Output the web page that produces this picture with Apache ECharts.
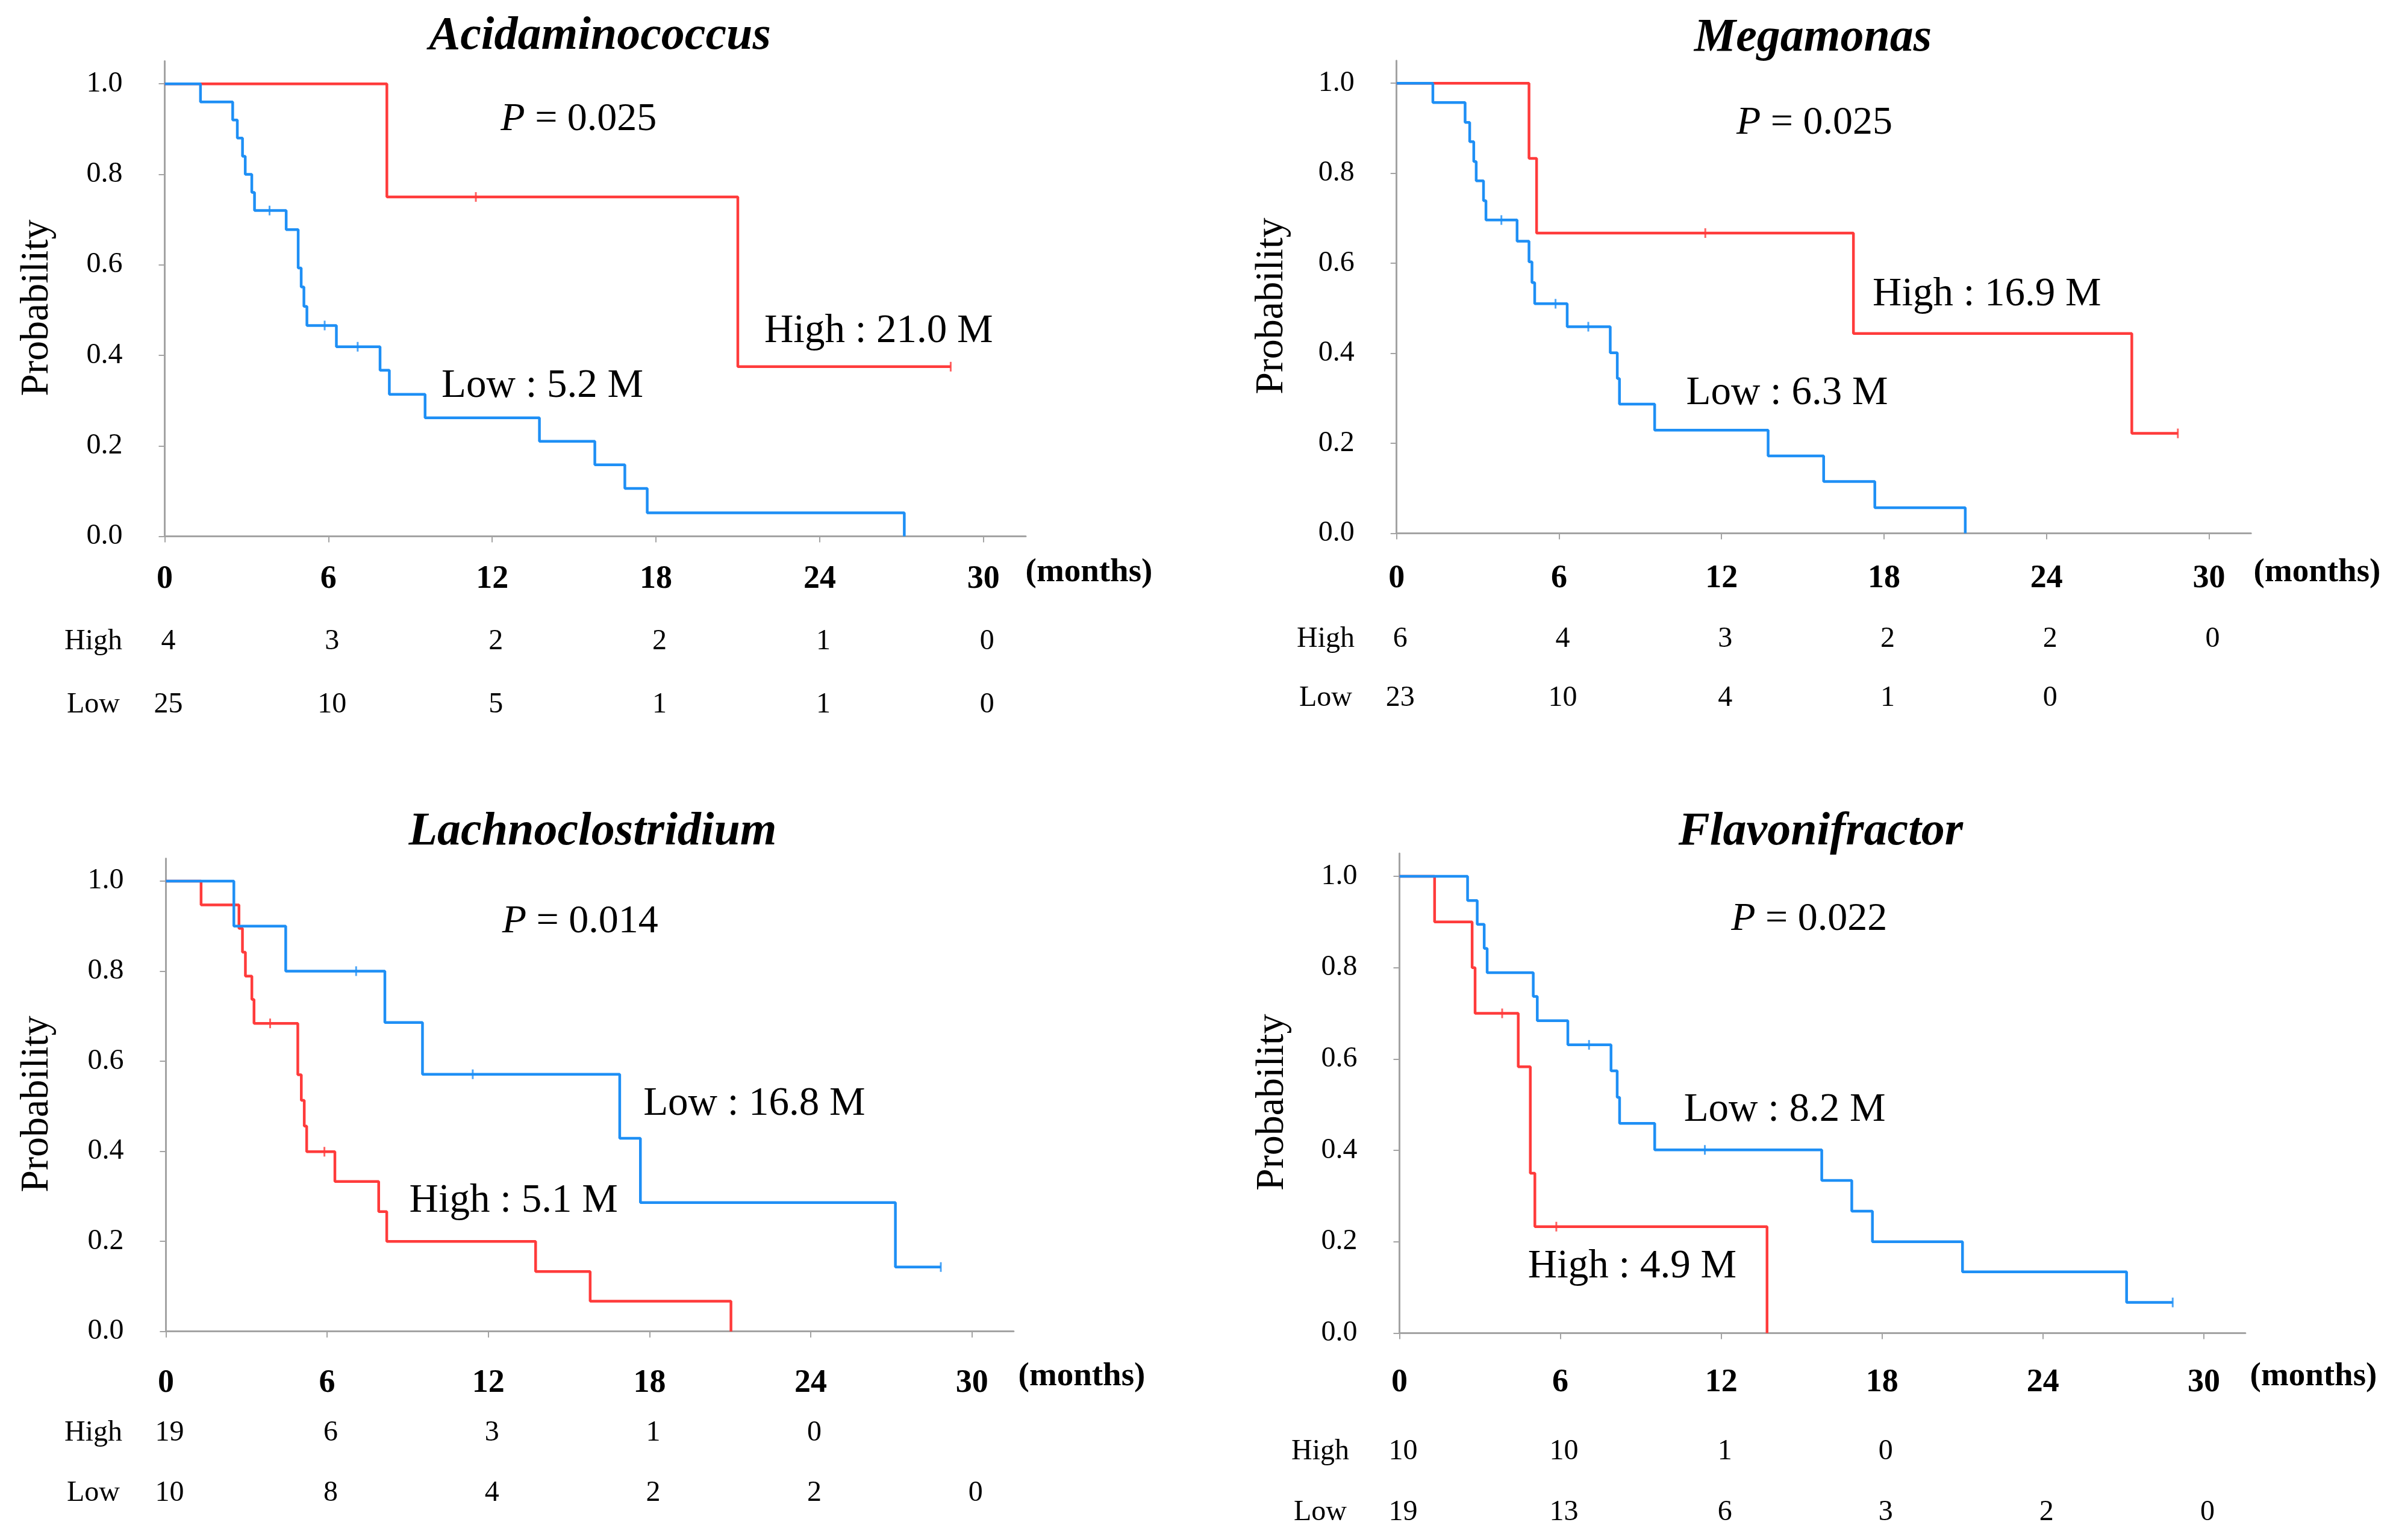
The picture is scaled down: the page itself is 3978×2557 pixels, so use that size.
<!DOCTYPE html>
<html>
<head>
<meta charset="utf-8">
<script src="https://cdn.jsdelivr.net/npm/echarts@6/dist/echarts.min.js"></script>
<style>
html,body{margin:0;padding:0;background:#ffffff;}
#chart{width:3978px;height:2557px;}
</style>
</head>
<body>
<div id="chart"></div>
<script>
// ---------------- data ----------------
const monthTicks = [0, 6, 12, 18, 24, 30];
const probTicks = [0, 0.2, 0.4, 0.6, 0.8, 1.0];
const groupNames = ['High', 'Low'];
const unitLabel = '(months)';
const yTitle = 'Probability';

// Panel 1: Acidaminococcus
const acidTitle = 'Acidaminococcus';
const acidHighT = [0, 8.14, 21.0, 28.8];
const acidHighS = [1, 0.75, 0.375, 0.375];
const acidHighCens = [11.4, 28.8];
const acidLowT = [0, 1.31, 2.49, 2.66, 2.85, 2.95, 3.19, 3.29, 4.45, 4.89, 5.0, 5.1, 5.21, 6.29, 7.89, 8.23, 9.54, 13.73, 15.76, 16.86, 17.68, 27.1];
const acidLowS = [1, 0.96, 0.92, 0.88, 0.84, 0.80, 0.76, 0.72, 0.678, 0.593, 0.551, 0.508, 0.466, 0.419, 0.367, 0.314, 0.262, 0.21, 0.158, 0.106, 0.052, 0];
const acidLowCens = [3.84, 5.86, 7.07];
const acidRiskHigh = [4, 3, 2, 2, 1, 0];
const acidRiskLow = [25, 10, 5, 1, 1, 0];
const acidP = '0.025';
const acidHighMed = '21.0';
const acidLowMed = '5.2';

// Panel 2: Megamonas
const megaTitle = 'Megamonas';
const megaHighT = [0, 4.89, 5.17, 16.87, 27.15, 28.85];
const megaHighS = [1, 0.833, 0.667, 0.444, 0.222, 0.222];
const megaHighCens = [11.4, 28.85];
const megaLowT = [0, 1.34, 2.53, 2.70, 2.85, 2.94, 3.21, 3.30, 4.45, 4.89, 5.0, 5.1, 6.3, 7.89, 8.15, 8.23, 9.53, 13.72, 15.77, 17.66, 21.0];
const megaLowS = [1, 0.957, 0.913, 0.870, 0.826, 0.783, 0.739, 0.696, 0.649, 0.603, 0.557, 0.510, 0.459, 0.401, 0.344, 0.287, 0.229, 0.172, 0.115, 0.057, 0];
const megaLowCens = [3.87, 5.87, 7.08];
const megaRiskHigh = [6, 4, 3, 2, 2, 0];
const megaRiskLow = [23, 10, 4, 1, 0];
const megaP = '0.025';
const megaHighMed = '16.9';
const megaLowMed = '6.3';

// Panel 3: Lachnoclostridium
const lachTitle = 'Lachnoclostridium';
const lachHighT = [0, 1.31, 2.72, 2.85, 2.96, 3.20, 3.28, 4.91, 5.04, 5.15, 5.24, 6.29, 7.92, 8.22, 13.76, 15.79, 21.03];
const lachHighS = [1, 0.947, 0.895, 0.842, 0.789, 0.737, 0.684, 0.570, 0.513, 0.456, 0.399, 0.333, 0.266, 0.2, 0.133, 0.067, 0];
const lachHighCens = [3.88, 5.9];
const lachLowT = [0, 2.53, 4.46, 8.15, 9.55, 16.89, 17.66, 27.15, 28.84];
const lachLowS = [1, 0.9, 0.8, 0.686, 0.571, 0.429, 0.286, 0.143, 0.143];
const lachLowCens = [7.08, 11.42, 28.84];
const lachRiskHigh = [19, 6, 3, 1, 0];
const lachRiskLow = [10, 8, 4, 2, 2, 0];
const lachP = '0.014';
const lachHighMed = '5.1';
const lachLowMed = '16.8';

// Panel 4: Flavonifractor
const flavTitle = 'Flavonifractor';
const flavHighT = [0, 1.31, 2.71, 2.82, 4.43, 4.88, 5.05, 13.71];
const flavHighS = [1, 0.9, 0.8, 0.7, 0.583, 0.35, 0.233, 0];
const flavHighCens = [3.83, 5.85];
const flavLowT = [0, 2.54, 2.9, 3.16, 3.27, 4.99, 5.14, 6.28, 7.89, 8.12, 8.21, 9.52, 15.75, 16.87, 17.64, 21.0, 27.12, 28.84];
const flavLowS = [1, 0.947, 0.895, 0.842, 0.789, 0.737, 0.684, 0.631, 0.574, 0.516, 0.459, 0.401, 0.334, 0.267, 0.2, 0.134, 0.067, 0.067];
const flavLowCens = [7.07, 11.39, 28.84];
const flavRiskHigh = [10, 10, 1, 0];
const flavRiskLow = [19, 13, 6, 3, 2, 0];
const flavP = '0.022';
const flavHighMed = '4.9';
const flavLowMed = '8.2';

// ---------------- assembly ----------------
const panels = [
  {title: acidTitle, hT: acidHighT, hS: acidHighS, hC: acidHighCens, lT: acidLowT, lS: acidLowS, lC: acidLowCens, rH: acidRiskHigh, rL: acidRiskLow, p: acidP, hM: acidHighMed, lM: acidLowMed},
  {title: megaTitle, hT: megaHighT, hS: megaHighS, hC: megaHighCens, lT: megaLowT, lS: megaLowS, lC: megaLowCens, rH: megaRiskHigh, rL: megaRiskLow, p: megaP, hM: megaHighMed, lM: megaLowMed},
  {title: lachTitle, hT: lachHighT, hS: lachHighS, hC: lachHighCens, lT: lachLowT, lS: lachLowS, lC: lachLowCens, rH: lachRiskHigh, rL: lachRiskLow, p: lachP, hM: lachHighMed, lM: lachLowMed},
  {title: flavTitle, hT: flavHighT, hS: flavHighS, hC: flavHighCens, lT: flavLowT, lS: flavLowS, lC: flavLowCens, rH: flavRiskHigh, rL: flavRiskLow, p: flavP, hM: flavHighMed, lM: flavLowMed}
];

// layout (pixels; annotation anchors are in data space)
const layout = [
  {grid: {left: 273.5, top: 101.6, width: 1429.5, height: 789}, titleXY: [996, 61], labelMargin: 44, nameGap: 179,
   pAt: [15.17, 0.921], highAt: [26.16, 0.4525], lowAt: [13.84, 0.332],
   riskY: [1065, 1170], riskLabelX: 155, unitXY: [1808, 951]},
  {grid: {left: 2318.7, top: 100.8, width: 1418.5, height: 784.7}, titleXY: [3010, 64], labelMargin: 49, nameGap: 174,
   pAt: [15.43, 0.911], highAt: [21.8, 0.530], lowAt: [14.42, 0.31],
   riskY: [1061, 1159], riskLabelX: 2201, unitXY: [3847, 951]},
  {grid: {left: 275.4, top: 1425.5, width: 1407.5, height: 785.2}, titleXY: [984, 1382], labelMargin: 59, nameGap: 181,
   pAt: [15.42, 0.910], highAt: [12.94, 0.289], lowAt: [21.9, 0.505],
   riskY: [2379, 2479], riskLabelX: 155, unitXY: [1796, 2286]},
  {grid: {left: 2323.5, top: 1417.1, width: 1404.4, height: 796.3}, titleXY: [3023, 1382], labelMargin: 56, nameGap: 178,
   pAt: [15.28, 0.906], highAt: [8.68, 0.1445], lowAt: [14.37, 0.488],
   riskY: [2410, 2511], riskLabelX: 2192, unitXY: [3841, 2286]}
];

const RED = '#FF3B3B';
const BLUE = '#1E8FF5';
const AXIS = '#a3a3a3';
const SERIF = "'Liberation Serif', 'Times New Roman', serif";

function survAt(T, S, t) {
  let v = S[0];
  for (let i = 0; i < T.length; i++) if (T[i] <= t) v = S[i];
  return v;
}

const grids = [], xAxes = [], yAxes = [], series = [];
panels.forEach((p, i) => {
  const L = layout[i];
  grids.push(Object.assign({containLabel: false}, L.grid));
  xAxes.push({
    type: 'value', gridIndex: i, min: 0, max: 31.55, interval: 6,
    splitLine: {show: false},
    axisLine: {show: true, onZero: false, lineStyle: {color: AXIS, width: 3}},
    axisTick: {show: true, length: 10, customValues: monthTicks, lineStyle: {color: AXIS, width: 2}},
    axisLabel: {customValues: monthTicks, margin: L.labelMargin, fontFamily: SERIF, fontWeight: 'bold', fontSize: 54, color: '#000'}
  });
  yAxes.push({
    type: 'value', gridIndex: i, min: 0, max: 1.05, interval: 0.2,
    splitLine: {show: false},
    axisLine: {show: true, onZero: false, lineStyle: {color: AXIS, width: 3}},
    axisTick: {show: true, length: 10, customValues: probTicks, lineStyle: {color: AXIS, width: 2}},
    axisLabel: {customValues: probTicks, margin: 70, fontFamily: SERIF, fontSize: 48, color: '#000',
      padding: [14, 0, 0, 0], formatter: v => v.toFixed(1)},
    name: yTitle, nameLocation: 'middle', nameRotate: 90, nameGap: L.nameGap,
    nameTextStyle: {fontFamily: SERIF, fontSize: 66, color: '#000', padding: [0, 30, 0, 0]}
  });
  const groups = [
    {name: groupNames[0], T: p.hT, S: p.hS, C: p.hC, color: RED},
    {name: groupNames[1], T: p.lT, S: p.lS, C: p.lC, color: BLUE}
  ];
  groups.forEach(g => {
    series.push({
      type: 'line', name: g.name, xAxisIndex: i, yAxisIndex: i, step: 'end',
      showSymbol: false, symbol: 'none', silent: true, animation: false,
      lineStyle: {color: g.color, width: 4.5}, itemStyle: {color: g.color},
      data: g.T.map((t, k) => [t, g.S[k]])
    });
    series.push({
      type: 'scatter', name: g.name + ' censored', xAxisIndex: i, yAxisIndex: i,
      symbol: 'rect', symbolSize: [3, 16], silent: true, animation: false,
      itemStyle: {color: g.color},
      data: g.C.map(t => [t, survAt(g.T, g.S, t)])
    });
  });
});

const chart = echarts.init(document.getElementById('chart'), null, {renderer: 'canvas'});
chart.setOption({
  backgroundColor: '#ffffff',
  animation: false,
  grid: grids, xAxis: xAxes, yAxis: yAxes, series: series
});

// text annotations anchored through the axes' scales
const graphics = [];
function txt(x, y, text, size, extra) {
  graphics.push({type: 'text', x: x, y: y, silent: true,
    style: Object.assign({text: text, fill: '#000', fontFamily: SERIF, fontSize: size,
      textAlign: 'center', textVerticalAlign: 'middle'}, extra || {})});
}
panels.forEach((p, i) => {
  const L = layout[i];
  const px = v => chart.convertToPixel({gridIndex: i}, v);
  txt(L.titleXY[0], L.titleXY[1], p.title, 78, {fontWeight: 'bold', fontStyle: 'italic'});
  const pp = px(L.pAt);
  txt(pp[0], pp[1], '{i|P} = ' + p.p, 66, {rich: {i: {fontStyle: 'italic', fontFamily: SERIF, fontSize: 66, fill: '#000'}}});
  const hp = px(L.highAt);
  txt(hp[0], hp[1], groupNames[0] + ' : ' + p.hM + ' M', 67);
  const lp = px(L.lowAt);
  txt(lp[0], lp[1], groupNames[1] + ' : ' + p.lM + ' M', 67);
  txt(L.unitXY[0], L.unitXY[1], unitLabel, 55, {fontWeight: 'bold'});
  txt(L.riskLabelX, L.riskY[0], groupNames[0], 48);
  txt(L.riskLabelX, L.riskY[1], groupNames[1], 48);
  [p.rH, p.rL].forEach((row, r) => {
    row.forEach((n, k) => {
      const xx = px([monthTicks[k], 0])[0] + 6;
      txt(xx, L.riskY[r], String(n), 48);
    });
  });
});
chart.setOption({graphic: {elements: graphics}});
</script>
</body>
</html>
